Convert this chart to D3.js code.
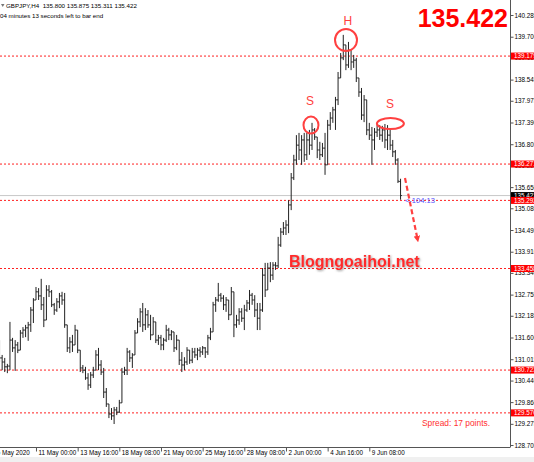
<!DOCTYPE html>
<html><head><meta charset="utf-8">
<script src="https://cdn.jsdelivr.net/npm/d3@7"></script>
<style>html,body{margin:0;padding:0;background:#fff;}svg{display:block;font-family:"Liberation Sans",Arial,sans-serif;}</style>
</head><body><svg id="c" width="534" height="462"></svg>
<script>
// GBPJPY H4 bars (index 0..154)
const opens = [131.40,131.05,130.94,130.81,130.83,131.53,131.32,131.40,131.26,131.72,131.80,131.86,131.94,132.34,132.61,132.83,132.72,132.48,132.07,132.88,132.83,132.48,132.34,132.56,132.72,132.61,131.94,131.32,131.48,131.40,131.80,131.26,130.78,130.72,130.51,130.32,130.59,130.72,131.13,130.86,130.67,130.13,129.81,129.54,129.49,129.65,129.59,129.84,130.67,130.72,131.21,131.05,131.13,131.72,132.02,132.29,131.94,132.21,131.94,131.67,132.02,131.53,131.59,131.40,131.53,131.80,131.67,131.75,131.32,131.53,130.99,130.86,130.94,131.26,130.99,131.21,131.13,131.26,131.21,131.32,131.21,131.59,131.75,132.48,132.61,132.74,132.66,132.48,132.61,132.21,132.83,131.94,132.07,132.29,132.12,132.34,132.53,132.74,132.61,132.34,132.12,132.34,133.28,132.88,133.47,133.28,133.55,133.53,134.09,134.44,134.55,134.63,135.17,135.90,136.38,136.78,136.65,136.92,136.52,136.92,136.78,137.19,137.00,136.65,136.52,136.70,136.25,137.32,137.51,137.73,138.00,138.59,139.13,139.48,138.94,139.34,139.02,139.07,138.59,138.21,137.59,138.00,137.19,137.05,136.92,137.13,137.19,137.05,137.19,136.92,137.05,136.78,136.60,136.38,135.800];
const highs = [131.53,131.13,131.05,130.89,132.02,131.59,131.53,131.48,131.80,131.88,131.94,132.02,132.42,132.66,132.96,132.93,133.18,132.69,133.01,133.01,132.88,132.53,132.66,132.80,132.83,132.80,131.94,131.61,131.67,131.94,131.80,131.26,130.86,130.81,130.64,130.67,130.81,131.26,131.32,130.99,130.78,130.24,129.81,129.70,129.73,129.73,129.92,130.78,130.81,131.32,131.26,131.18,131.80,132.12,132.39,132.53,132.39,132.34,132.21,132.15,132.02,131.67,131.67,131.59,131.94,131.86,131.80,131.75,131.67,131.53,131.21,131.07,131.34,131.26,131.32,131.32,131.32,131.34,131.37,131.34,131.67,131.86,132.56,132.69,133.07,132.80,132.74,132.69,132.61,132.96,132.83,132.21,132.39,132.39,132.48,132.61,132.88,132.80,132.74,132.53,132.53,133.47,133.61,133.61,133.63,133.63,133.63,134.31,134.55,134.71,134.76,135.30,136.03,136.52,137.05,137.11,137.05,137.11,137.11,137.19,137.38,137.24,137.00,136.87,136.84,137.11,137.46,137.67,137.81,138.08,138.75,139.26,139.75,139.48,139.56,139.34,139.21,139.13,138.59,138.32,138.13,138.00,137.38,137.27,137.24,137.32,137.32,137.30,137.35,137.32,137.24,136.92,136.65,136.43,135.875];
const lows = [130.94,130.72,130.67,130.64,130.72,131.21,130.70,131.18,131.26,131.59,131.61,131.51,131.75,131.99,132.61,132.61,132.34,131.88,132.07,132.69,132.42,132.21,132.29,132.39,132.48,131.86,131.21,131.18,131.21,131.40,131.18,130.67,130.64,130.46,130.19,130.24,130.51,130.72,130.72,130.59,129.97,129.73,129.43,129.38,129.27,129.51,129.57,129.84,130.59,130.59,130.94,130.78,131.13,131.72,131.88,131.75,131.80,131.86,131.53,131.67,131.45,131.40,131.26,131.26,131.48,131.53,131.53,131.21,131.26,130.86,130.67,130.72,130.86,130.89,130.91,131.05,130.99,131.07,131.13,131.05,131.13,131.53,131.75,132.29,132.56,132.56,132.34,132.29,132.07,132.21,131.61,131.86,131.94,132.02,131.80,132.29,132.34,132.48,132.15,131.80,131.80,132.29,132.69,132.88,133.09,133.15,133.42,133.47,134.04,134.36,134.36,134.41,135.03,135.84,136.25,136.38,136.25,136.33,136.38,136.52,136.65,136.92,136.43,136.38,136.46,135.98,136.25,137.19,137.38,137.19,137.86,138.59,139.07,138.80,138.86,138.80,138.86,138.48,138.08,137.46,137.40,137.05,136.92,136.25,136.65,137.00,136.92,136.87,136.70,136.65,136.65,136.46,136.25,135.76,135.311];
const closes = [131.05,130.94,130.81,130.83,131.53,131.32,131.40,131.26,131.72,131.80,131.86,131.94,132.34,132.61,132.83,132.72,132.48,132.07,132.88,132.83,132.48,132.34,132.56,132.72,132.61,131.94,131.32,131.48,131.40,131.80,131.26,130.78,130.72,130.51,130.32,130.59,130.72,131.13,130.86,130.67,130.13,129.81,129.54,129.49,129.65,129.59,129.84,130.67,130.72,131.21,131.05,131.13,131.72,132.02,132.29,131.94,132.21,131.94,131.67,132.02,131.53,131.59,131.40,131.53,131.80,131.67,131.75,131.32,131.53,130.99,130.86,130.94,131.26,130.99,131.21,131.13,131.26,131.21,131.32,131.21,131.59,131.75,132.48,132.61,132.74,132.66,132.48,132.61,132.21,132.83,131.94,132.07,132.29,132.12,132.34,132.53,132.74,132.61,132.34,132.12,132.34,133.28,132.88,133.47,133.28,133.55,133.53,134.09,134.44,134.55,134.63,135.17,135.90,136.38,136.78,136.65,136.92,136.52,136.92,136.78,137.19,137.00,136.65,136.52,136.70,136.25,137.32,137.51,137.73,138.00,138.59,139.13,139.48,138.94,139.34,139.02,139.07,138.59,138.21,137.59,138.00,137.19,137.05,136.92,137.13,137.19,137.05,137.19,136.92,137.05,136.78,136.60,136.38,135.81,135.422];

const priceTicks = [140.285,139.700,139.130,138.545,137.975,137.390,136.805,136.220,135.650,135.080,134.495,133.910,133.340,132.755,132.185,131.600,131.015,130.440,129.860,129.275,128.705];
const dateTickIdx = [-2,14,30,46,62,78,94,110,126,142];
const dateLabels = ["6 May 2020","11 May 00:00","13 May 16:00","18 May 08:00","21 May 00:00","25 May 16:00","28 May 08:00","2 Jun 00:00","4 Jun 16:00","9 Jun 08:00"];
const levels = [139.179,136.271,135.292,133.458,130.723,129.570];
const currentPrice = 135.422;
const headerText = "GBPJPY,H4  135.800 135.875 135.311 135.422";
const timerText = "04 minutes 13 seconds left to bar end";

const W=534,H=462, axisX=510, axisY=447;
const svg=d3.select('#c');
const x=d3.scaleLinear().domain([0,154]).range([-0.46,400.56]);
const y=d3.scaleLinear().domain([140.285,128.705]).range([15,445]);

svg.append('rect').attr('width',W).attr('height',H).attr('fill','#fff');
svg.append('rect').attr('x',0).attr('y',457).attr('width',W).attr('height',5).attr('fill','#f0f0f0');

const defs=svg.append('defs');
defs.append('clipPath').attr('id','plot').append('rect').attr('x',0).attr('y',0).attr('width',axisX).attr('height',axisY);
const f=defs.append('filter').attr('id','sh').attr('x','-10%').attr('y','-30%').attr('width','130%').attr('height','180%');
f.append('feDropShadow').attr('dx',1).attr('dy',1).attr('stdDeviation',1).attr('flood-color','#555').attr('flood-opacity',0.6);
defs.append('marker').attr('id','ah').attr('viewBox','0 0 10 10').attr('refX',5).attr('refY',5)
  .attr('markerWidth',3).attr('markerHeight',3).attr('orient','auto')
  .append('path').attr('d','M0,0L10,5L0,10z').attr('fill','#ff3b3b');

const plot=svg.append('g').attr('clip-path','url(#plot)');

// current price line
plot.append('line').attr('x1',0).attr('x2',axisX).attr('y1',y(currentPrice)).attr('y2',y(currentPrice))
  .attr('stroke','#c8c8c8').attr('stroke-width',1);

// level lines
plot.selectAll('line.lvl').data(levels).join('line').attr('class','lvl')
  .attr('x1',0).attr('x2',axisX).attr('y1',d=>y(d)).attr('y2',d=>y(d))
  .attr('stroke','#ff2020').attr('stroke-width',1).attr('stroke-dasharray','2,2');

// OHLC bars
const bars=plot.append('g').attr('stroke','#222').attr('stroke-width',1);
const idx=d3.range(opens.length);
bars.selectAll('line.v').data(idx).join('line').attr('class','v')
  .attr('x1',i=>x(i)).attr('x2',i=>x(i)).attr('y1',i=>y(highs[i])).attr('y2',i=>y(lows[i]));
bars.selectAll('line.o').data(idx).join('line').attr('class','o')
  .attr('x1',i=>x(i)-1.3).attr('x2',i=>x(i)).attr('y1',i=>y(opens[i])).attr('y2',i=>y(opens[i]));
bars.selectAll('line.c').data(idx).join('line').attr('class','c')
  .attr('x1',i=>x(i)).attr('x2',i=>x(i)+1.3).attr('y1',i=>y(closes[i])).attr('y2',i=>y(closes[i]));

// axes lines
svg.append('line').attr('x1',axisX+0.5).attr('x2',axisX+0.5).attr('y1',0).attr('y2',axisY).attr('stroke','#555');
svg.append('line').attr('x1',0).attr('x2',axisX+0.5).attr('y1',axisY+0.5).attr('y2',axisY+0.5).attr('stroke','#555');

// right axis
const ra=svg.append('g').attr('transform',`translate(${axisX+0.5},0)`)
  .call(d3.axisRight(y).tickValues(priceTicks).tickSize(3).tickSizeOuter(0).tickFormat(d3.format('.3f')));
ra.select('.domain').remove();
ra.selectAll('line').attr('stroke','#555');
ra.selectAll('text').attr('x',4).attr('font-size','6.3px').attr('fill','#000').attr('font-family','"Liberation Sans",Arial,sans-serif');

// bottom axis
const ba=svg.append('g').attr('transform',`translate(0,${axisY+0.5})`)
  .call(d3.axisBottom(x).tickValues(dateTickIdx).tickSize(4).tickSizeOuter(0).tickFormat((d,i)=>dateLabels[i]));
ba.select('.domain').remove();
ba.selectAll('line').attr('stroke','#555');
ba.selectAll('text').attr('text-anchor','start').attr('x',2).attr('y',3).attr('dy','0.71em')
  .attr('font-size','6.3px').attr('fill','#000').attr('font-family','"Liberation Sans",Arial,sans-serif');

// price labels
const cp=svg.append('g');
cp.append('rect').attr('x',axisX+1).attr('y',y(currentPrice)-3.5).attr('width',W-axisX).attr('height',7).attr('fill','#000');
cp.append('text').attr('x',axisX+4).attr('y',y(currentPrice)).attr('dy','0.35em').attr('font-size','6.3px').attr('fill','#fff').text(currentPrice.toFixed(3));
const lv=svg.append('g').selectAll('g').data(levels).join('g');
lv.append('rect').attr('x',axisX+1).attr('y',d=>y(d)-3.5).attr('width',W-axisX).attr('height',7).attr('fill','#ff0000');
lv.append('text').attr('x',axisX+4).attr('y',d=>y(d)).attr('dy','0.35em').attr('font-size','6.3px').attr('fill','#fff').text(d=>d.toFixed(3));

// header
svg.append('path').attr('d','M1,4L4.5,4L2.75,7z').attr('fill','#777');
svg.append('text').attr('x',6).attr('y',8.3).attr('font-size','6.2px').attr('fill','#000').attr('xml:space','preserve').style('white-space','pre').text(headerText);
svg.append('text').attr('x',0).attr('y',17.5).attr('font-size','6.2px').attr('fill','#000').text(timerText);

// big price
svg.append('text').attr('x',508).attr('y',27).attr('text-anchor','end').attr('font-size','25px').attr('font-weight','bold')
  .attr('fill','#ff0000').text(currentPrice.toFixed(3));

// annotations
const red='#ff4040';
const ann=svg.append('g');
ann.append('ellipse').attr('cx',x(133.05)).attr('cy',y(139.61)).attr('rx',11).attr('ry',11).attr('fill','none').attr('stroke',red).attr('stroke-width',2);
ann.append('ellipse').attr('cx',x(119.6)).attr('cy',y(137.32)).attr('rx',7.5).attr('ry',8.5).attr('fill','none').attr('stroke',red).attr('stroke-width',2);
ann.append('ellipse').attr('cx',x(150.1)).attr('cy',y(137.36)).attr('rx',13.5).attr('ry',5.5).attr('fill','none').attr('stroke',red).attr('stroke-width',2);
ann.append('text').attr('x',x(133.8)).attr('y',y(140.02)).attr('text-anchor','middle').attr('font-size','12px').attr('fill',red).text('H');
ann.append('text').attr('x',x(119.2)).attr('y',y(137.86)).attr('text-anchor','middle').attr('font-size','12px').attr('fill',red).text('S');
ann.append('text').attr('x',x(149.9)).attr('y',y(137.78)).attr('text-anchor','middle').attr('font-size','12px').attr('fill',red).text('S');
ann.append('line').attr('x1',x(155.7)).attr('y1',y(135.896)).attr('x2',x(160.5)).attr('y2',y(134.25))
  .attr('stroke',red).attr('stroke-width',2.2).attr('stroke-dasharray','5,3').attr('marker-end','url(#ah)');
ann.append('text').attr('x',x(155.7)).attr('y',y(135.30)).attr('dy','0.35em').attr('font-size','7.5px').attr('fill','#5050ff').text('<-104:13');
ann.append('text').attr('x',289).attr('y',267).attr('font-size','16px').attr('font-weight','bold').attr('fill','#ff2a2a')
  .attr('filter','url(#sh)').text('Blogngoaihoi.net');
ann.append('text').attr('x',422).attr('y',426).attr('font-size','8.4px').attr('fill','#ff3030').text('Spread: 17 points.');
</script></body></html>
